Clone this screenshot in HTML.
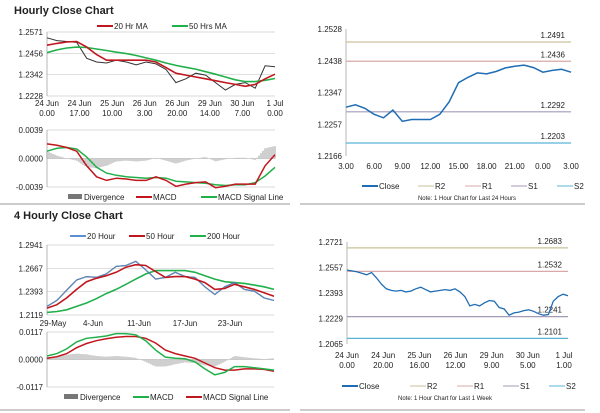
<!DOCTYPE html>
<html><head><meta charset="utf-8"><style>
body{margin:0;background:#fff;font-family:"Liberation Sans",Arial,sans-serif;}
svg{display:block}
text{font-family:"Liberation Sans",Arial,sans-serif;fill:#222}
</style></head><body>
<svg id="c" width="600" height="413" viewBox="0 0 600 413">
<text x="14" y="14" font-size="11" font-weight="bold">Hourly Close Chart</text>
<text x="14" y="219" font-size="11" font-weight="bold">4 Hourly Close Chart</text>
<line x1="0" y1="204" x2="290" y2="204" stroke="#999"/>
<line x1="300" y1="204" x2="585" y2="204" stroke="#999"/>
<line x1="0" y1="410" x2="290" y2="410" stroke="#999"/>
<line x1="300" y1="410" x2="585" y2="410" stroke="#999"/>
</svg>
<script>
// ---- data ----
const h1Ticks=["1.2571","1.2456","1.2342","1.2228"];
const h1X=[["24 Jun","0.00"],["24 Jun","17.00"],["25 Jun","10.00"],["26 Jun","3.00"],["26 Jun","20.00"],["29 Jun","14.00"],["30 Jun","7.00"],["1 Jul","0.00"]];
const h1Close=[1.2540,1.2525,1.2520,1.2515,1.2430,1.2410,1.2405,1.2420,1.2410,1.2395,1.2410,1.2400,1.2370,1.2300,1.2320,1.2350,1.2340,1.2300,1.2260,1.2290,1.2300,1.2270,1.2390,1.2385];
const h1MA20=[1.2500,1.2510,1.2518,1.2520,1.2490,1.2450,1.2420,1.2420,1.2420,1.2420,1.2420,1.2410,1.2380,1.2350,1.2340,1.2330,1.2320,1.2310,1.2300,1.2290,1.2280,1.2290,1.2320,1.2345];
const h1MA50=[1.2460,1.2475,1.2485,1.2490,1.2488,1.2480,1.2472,1.2463,1.2455,1.2445,1.2432,1.2420,1.2405,1.2392,1.2382,1.2372,1.2358,1.2345,1.2330,1.2315,1.2305,1.2305,1.2312,1.2322];
const h1MacdTicks=["0.0039","0.0000","-0.0039"];
const h1Macd=[0.0020,0.0018,0.0015,0.0010,-0.0010,-0.0025,-0.0030,-0.0027,-0.0028,-0.0030,-0.0030,-0.0025,-0.0030,-0.0038,-0.0035,-0.0033,-0.0032,-0.0040,-0.0038,-0.0035,-0.0035,-0.0035,-0.0010,0.0005];
const h1Signal=[0.0010,0.0014,0.0015,0.0013,0.0002,-0.0012,-0.0020,-0.0023,-0.0025,-0.0026,-0.0027,-0.0026,-0.0027,-0.0031,-0.0032,-0.0033,-0.0034,-0.0036,-0.0037,-0.0036,-0.0036,-0.0033,-0.0024,-0.0012];

const r1Ticks=["1.2528","1.2438","1.2347","1.2257","1.2166"];
const r1X=["3.00","6.00","9.00","12.00","15.00","18.00","21.00","0.00","3.00"];
const r1Close=[1.2305,1.2312,1.2302,1.2285,1.2275,1.2297,1.2265,1.2270,1.2270,1.2270,1.2285,1.2320,1.2375,1.2390,1.2403,1.2400,1.2407,1.2417,1.2422,1.2425,1.2418,1.2405,1.2410,1.2413,1.2405];
const r1Levels=[1.2491,1.2436,1.2292,1.2203];

const f4Ticks=["1.2941","1.2667","1.2393","1.2119"];
const f4X=["29-May","4-Jun","11-Jun","17-Jun","23-Jun"];
const f4Close=[1.2220,1.2290,1.2410,1.2530,1.2570,1.2560,1.2600,1.2690,1.2700,1.2750,1.2650,1.2540,1.2560,1.2620,1.2570,1.2560,1.2450,1.2360,1.2450,1.2500,1.2420,1.2400,1.2320,1.2290];
const f4MA50=[1.2200,1.2240,1.2320,1.2420,1.2510,1.2550,1.2580,1.2620,1.2680,1.2710,1.2700,1.2630,1.2560,1.2570,1.2570,1.2540,1.2500,1.2420,1.2430,1.2480,1.2450,1.2420,1.2380,1.2340];
const f4MA200=[1.2150,1.2160,1.2180,1.2220,1.2260,1.2310,1.2370,1.2420,1.2480,1.2540,1.2600,1.2640,1.2640,1.2640,1.2640,1.2620,1.2580,1.2540,1.2510,1.2500,1.2490,1.2470,1.2450,1.2420];
const f4MacdTicks=["0.0117","0.0000","-0.0117"];
const f4Macd=[0.0015,0.0025,0.0045,0.0075,0.0090,0.0095,0.0100,0.0110,0.0110,0.0105,0.0080,0.0040,0.0010,0.0005,0.0003,-0.0010,-0.0040,-0.0065,-0.0055,-0.0030,-0.0030,-0.0035,-0.0040,-0.0045];
const f4Signal=[0.0005,0.0012,0.0025,0.0050,0.0068,0.0080,0.0088,0.0095,0.0098,0.0098,0.0090,0.0070,0.0040,0.0025,0.0015,0.0005,-0.0015,-0.0035,-0.0045,-0.0045,-0.0040,-0.0040,-0.0042,-0.0050];

const r2Ticks=["1.2721","1.2557","1.2393","1.2229","1.2065"];
const r2X=[["24 Jun","0.00"],["24 Jun","20.00"],["25 Jun","16.00"],["26 Jun","12.00"],["29 Jun","9.00"],["30 Jun","5.00"],["1 Jul","1.00"]];
const r2Close=[1.2540,1.2535,1.2530,1.2520,1.2510,1.2525,1.2490,1.2450,1.2420,1.2410,1.2405,1.2410,1.2400,1.2405,1.2420,1.2430,1.2415,1.2400,1.2405,1.2410,1.2415,1.2410,1.2420,1.2400,1.2370,1.2310,1.2320,1.2310,1.2330,1.2345,1.2340,1.2300,1.2290,1.2250,1.2265,1.2270,1.2280,1.2285,1.2275,1.2260,1.2250,1.2255,1.2340,1.2370,1.2385,1.2375];
const r2Levels=[1.2683,1.2532,1.2241,1.2101];

// ---- helpers ----
const svg=document.getElementById('c');const NS="http://www.w3.org/2000/svg";
function mk(tag,attrs){const e=document.createElementNS(NS,tag);for(const k in attrs)e.setAttribute(k,attrs[k]);svg.appendChild(e);return e;}
function txt(x,y,s,size,anchor){const e=mk('text',{x:x,y:y,'font-size':size||8,'text-anchor':anchor||'start'});e.textContent=s;return e;}
function scale(d0,d1,r0,r1){return v=>r0+(v-d0)/(d1-d0)*(r1-r0);}
function line(vals,sx,sy,color,w,name){const p=vals.map((v,i)=>sx(i).toFixed(1)+','+sy(v).toFixed(1)).join(' ');
 const e=mk('polyline',{points:p,fill:'none',stroke:color,'stroke-width':w});
 
 return e;}
function yAxis(ticks,x0,x1,y0,y1,grid,name){ticks.forEach((t,i)=>{const y=y0+(y1-y0)*i/(ticks.length-1);
 if(grid){const g=mk('line',{x1:x0,x2:x1,y1:y,y2:y,stroke:'#ccc','stroke-width':0.7});
 
 }
 const l=txt(x0-4,y+3,t,8,'end');
 
 });
 const a=mk('line',{x1:x0,x2:x0,y1:y0,y2:y1,stroke:'#999','stroke-width':0.7});
 
 }
function legend(items,y){items.forEach(it=>{const kind=it[3]||'line';
 const s=kind==='bar'?mk('rect',{x:it[1],y:y-3,width:14,height:5,fill:'#777'}):mk('line',{x1:it[1],x2:it[1]+16,y1:y,y2:y,stroke:it[2],'stroke-width':kind==='thin'?1:2});
 
 
 const t=txt(it[1]+(kind==='bar'?16:17),y+3,it[0],8);
 
 });}
function macdPanel(macd,sig,ticks,x0,x1,y0,y1,mc,sc,name){const lim=parseFloat(ticks[0]);
 const sx=scale(0,macd.length-1,x0,x1),sy=scale(lim,-lim,y0,y1);
 yAxis(ticks,x0,x1,y0,y1,true,name);
 for(let px=x0;px<=x1;px+=2){const f=(px-x0)/(x1-x0)*(macd.length-1);const i=Math.min(Math.floor(f),macd.length-2),t=f-i;
  const d=(macd[i]+(macd[i+1]-macd[i])*t)-(sig[i]+(sig[i+1]-sig[i])*t);
  const b=mk('line',{x1:px,x2:px,y1:sy(0),y2:sy(d),stroke:'#888','stroke-width':0.8});
  
  }
 line(sig,sx,sy,sc,1.5,name+'-signal-line');line(macd,sx,sy,mc,1.5,name+'-macd-line');}
function levels(lv,cols,x0,x1,sy,name){lv.forEach((v,i)=>{const y=sy(v);const l=mk('line',{x1:x0,x2:x1,y1:y,y2:y,stroke:cols[i],'stroke-width':1.2});
 
 
 const t=txt(x1-6,y-4,v.toFixed(4),8,'end');
 
 });}
const LC=['#c9c29a','#d9a8a8','#a49ab8','#5ab4d6'];

// ---- hourly left ----
(function(){const x0=47,x1=275,y0=32,y1=96;const sy=scale(1.2571,1.2228,y0,y1),sx=scale(0,h1Close.length-1,x0,x1);
 yAxis(h1Ticks,x0,x1,y0,y1,true,'hourly');
 h1X.forEach((l,i)=>{const x=x0+(x1-x0)*i/(h1X.length-1);const a=txt(x,106,l[0],8,'middle');
  
  
  const b=txt(x,116,l[1],8,'middle');
  
  });
 line(h1Close,sx,sy,'#333',1,'hourly-close-line');line(h1MA50,sx,sy,'#22b04b',1.6,'hourly-ma50-line');line(h1MA20,sx,sy,'#c0161d',1.6,'hourly-ma20-line');
 legend([['20 Hr MA',97,'#c0161d'],['50 Hrs MA',172,'#22b04b']],26);
 macdPanel(h1Macd,h1Signal,h1MacdTicks,x0,x1,130,187,'#c0161d','#22b04b','hourly-macd');
 legend([['Divergence',68,'#777','bar'],['MACD',136,'#c0161d'],['MACD Signal Line',201,'#22b04b']],197);})();

// ---- hourly right ----
(function(){const x0=346,x1=571,y0=29,y1=156;const sy=scale(1.2528,1.2166,y0,y1),sx=scale(0,r1Close.length-1,x0,x1);
 yAxis(r1Ticks,x0,x1,y0,y1,false,'hourly-pivot');
 r1X.forEach((l,i)=>{const t=txt(x0+(x1-x0)*i/(r1X.length-1),169,l,8,'middle');
  
  });
 levels(r1Levels,LC,x0,x1,sy,'hourly-pivot');
 line(r1Close,sx,sy,'#1f6db3',1.5,'hourly-pivot-close-line');
 legend([['Close',362,'#1f6db3'],['R2',418,LC[0],'thin'],['R1',465,LC[1],'thin'],['S1',511,LC[2],'thin'],['S2',557,LC[3],'thin']],186);
 const n=txt(467,200,'Note: 1 Hour Chart for Last 24 Hours',6,'middle');
 
 })();

// ---- 4 hourly left ----
(function(){const x0=47,x1=274,y0=245,y1=315;const sy=scale(1.2941,1.2119,y0,y1),sx=scale(0,f4Close.length-1,x0,x1);
 yAxis(f4Ticks,x0,x1,y0,y1,true,'four-hourly');
 const lx=[53,93,139,185,230];
 f4X.forEach((l,i)=>{const t=txt(lx[i],326,l,8,'middle');
  
  });
 line(f4MA200,sx,sy,'#22b04b',1.6,'four-hourly-200-line');line(f4Close,sx,sy,'#333',1.2,'four-hourly-close-line');line(f4Close,sx,sy,'#5b8fd0',1,'four-hourly-20-line');line(f4MA50,sx,sy,'#c0161d',1.6,'four-hourly-50-line');
 legend([['20 Hour',70,'#5b8fd0'],['50 Hour',129,'#c0161d'],['200 Hour',190,'#22b04b']],236);
 macdPanel(f4Macd,f4Signal,f4MacdTicks,x0,x1,332,387,'#22b04b','#c0161d','four-hourly-macd');
 legend([['Divergence',64,'#777','bar'],['MACD',133,'#22b04b'],['MACD Signal Line',186,'#c0161d']],397);})();

// ---- 4 hourly right ----
(function(){const x0=347,x1=568,y0=242,y1=344;const sy=scale(1.2721,1.2065,y0,y1),sx=scale(0,r2Close.length-1,x0,x1);
 yAxis(r2Ticks,x0,x1,y0,y1,false,'weekly-pivot');
 r2X.forEach((l,i)=>{const x=x0+(564-x0)*i/(r2X.length-1);const a=txt(x,358,l[0],8,'middle');
  
  
  const b=txt(x,368,l[1],8,'middle');
  
  });
 levels(r2Levels,LC,x0,x1,sy,'weekly-pivot');
 line(r2Close,sx,sy,'#1f6db3',1.3,'weekly-pivot-close-line');
 legend([['Close',342,'#1f6db3'],['R2',410,LC[0],'thin'],['R1',457,LC[1],'thin'],['S1',503,LC[2],'thin'],['S2',549,LC[3],'thin']],386);
 const n=txt(445,400,'Note: 1 Hour Chart for Last 1 Week',6,'middle');
 
 })();
</script>
</body></html>
